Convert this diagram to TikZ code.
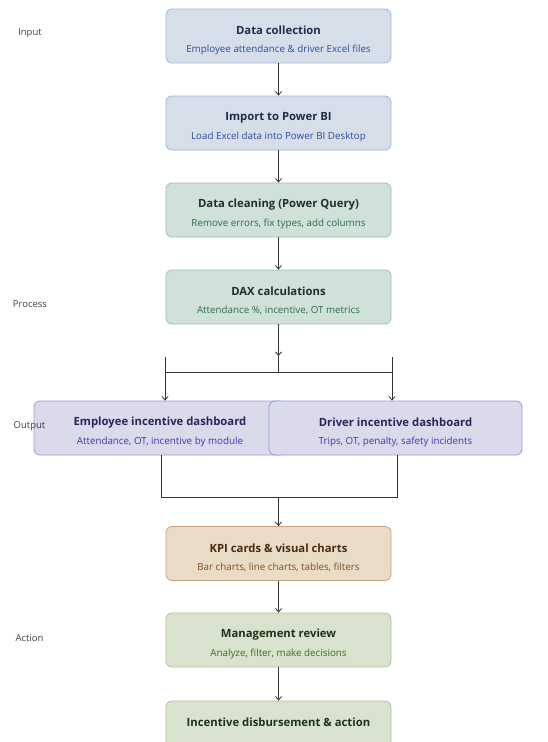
\documentclass[tikz,border=0pt]{standalone}
\usepackage{fontspec}
\setmainfont{Open Sans}
\usetikzlibrary{arrows.meta,positioning}
\definecolor{inpfill}{HTML}{D6DFE9}
\definecolor{inpline}{HTML}{A3B6D6}
\definecolor{inptitle}{HTML}{1F2B4F}
\definecolor{inpsub}{HTML}{2E4C9E}
\definecolor{prcfill}{HTML}{CFE1D9}
\definecolor{prcline}{HTML}{98C2AE}
\definecolor{prctitle}{HTML}{1D3329}
\definecolor{prcsub}{HTML}{2F6B52}
\definecolor{outfill}{HTML}{DBDAEB}
\definecolor{outline}{HTML}{9D99DA}
\definecolor{outtitle}{HTML}{27255C}
\definecolor{outsub}{HTML}{3D37B5}
\definecolor{kpifill}{HTML}{E8DCC6}
\definecolor{kpiline}{HTML}{C9A27F}
\definecolor{kpititle}{HTML}{4A2A12}
\definecolor{kpisub}{HTML}{8A4A22}
\definecolor{actfill}{HTML}{D8E2CC}
\definecolor{actline}{HTML}{ABC59A}
\definecolor{acttitle}{HTML}{1E3316}
\definecolor{actsub}{HTML}{3D6A2A}
\definecolor{wire}{HTML}{333333}

\tikzset{
  stage/.style={draw, line width=0.8pt, rounded corners=6pt, minimum width=225pt,
    minimum height=54pt, inner sep=0pt},
  wide/.style={stage, minimum width=252pt},
  ttl/.style={font=\fontsize{11.3}{13}\selectfont\bfseries, inner sep=0pt},
  sub/.style={font=\fontsize{9.8}{11}\selectfont, inner sep=0pt},
  lane/.style={font=\fontsize{9.5}{11}\selectfont, text=black!75, inner sep=0pt},
  flow/.style={draw=wire, line width=0.8pt},
  arr/.style={flow, -{Straight Barb[length=3.5pt,width=6pt]}},
}

\begin{document}
\begin{tikzpicture}[x=1pt,y=-1pt]
  \useasboundingbox (0,0) rectangle (547,742);

  % input
  \node[stage, fill=inpfill, draw=inpline] (collect) at (278.5,36) {};
  \node[ttl, text=inptitle] at ([yshift=-22pt]collect.north) {Data collection};
  \node[sub, text=inpsub] at ([yshift=-41pt]collect.north) {Employee attendance \& driver Excel files};

  \node[stage, fill=inpfill, draw=inpline] (import) at (278.5,123) {};
  \node[ttl, text=inptitle] at ([yshift=-22pt]import.north) {Import to Power BI};
  \node[sub, text=inpsub] at ([yshift=-41pt]import.north) {Load Excel data into Power BI Desktop};

  % process
  \node[stage, fill=prcfill, draw=prcline] (clean) at (278.5,210) {};
  \node[ttl, text=prctitle] at ([yshift=-22pt]clean.north) {Data cleaning (Power Query)};
  \node[sub, text=prcsub] at ([yshift=-41pt]clean.north) {Remove errors, fix types, add columns};

  \node[stage, fill=prcfill, draw=prcline] (dax) at (278.5,297) {};
  \node[ttl, text=prctitle] at ([yshift=-22pt]dax.north) {DAX calculations};
  \node[sub, text=prcsub] at ([yshift=-41pt]dax.north) {Attendance \%, incentive, OT metrics};

  % output
  \node[wide, fill=outfill, draw=outline] (empdash) at (160,428) {};
  \node[wide, fill=outfill, draw=outline, minimum width=253pt] (drvdash) at (395.5,428) {};
  \node[ttl, text=outtitle] at ([yshift=-22pt]empdash.north) {Employee incentive dashboard};
  \node[sub, text=outsub] at ([yshift=-41pt]empdash.north) {Attendance, OT, incentive by module};
  \node[ttl, text=outtitle] at ([yshift=-22pt]drvdash.north) {Driver incentive dashboard};
  \node[sub, text=outsub] at ([yshift=-41pt]drvdash.north) {Trips, OT, penalty, safety incidents};

  \node[stage, fill=kpifill, draw=kpiline] (kpi) at (278.5,553.5) {};
  \node[ttl, text=kpititle] at ([yshift=-22pt]kpi.north) {KPI cards \& visual charts};
  \node[sub, text=kpisub] at ([yshift=-41pt]kpi.north) {Bar charts, line charts, tables, filters};

  % action
  \node[stage, fill=actfill, draw=actline] (review) at (278.5,640) {};
  \node[ttl, text=acttitle] at ([yshift=-22pt]review.north) {Management review};
  \node[sub, text=actsub] at ([yshift=-41pt]review.north) {Analyze, filter, make decisions};

  \node[stage, fill=actfill, draw=actline] (payout) at (278.5,728) {};
  \node[ttl, text=acttitle] at ([yshift=-22pt]payout.north) {Incentive disbursement \& action};

  % lanes (on top)
  \node[lane] (lin) at (30,33) {Input};
  \node[lane] (lpr) at (30,304) {Process};
  \node[lane] (lou) at (29.5,426) {Output};
  \node[lane] (lac) at (29.5,638) {Action};

  % split and merge points
  \coordinate (split) at (278.5,356);
  \coordinate (fork) at (278.5,372);
  \coordinate (forkl) at (165,372);
  \coordinate (forkr) at (392,372);
  \coordinate (stubl) at (165,357);
  \coordinate (stubr) at (392,357);
  \coordinate (joinl) at (161,497);
  \coordinate (joinr) at (397,497);
  \coordinate (join) at (278.5,497);

  % connectors
  \draw[arr] (collect) -- (import);
  \draw[arr] (import) -- (clean);
  \draw[arr] (clean) -- (dax);
  \draw[arr] (dax) -- (split);
  \draw[flow] (split) -- (fork);
  \draw[flow] (forkl) -- (forkr);
  \draw[arr] (stubl) -- (stubl |- empdash.north);
  \draw[arr] (stubr) -- (stubr |- drvdash.north);
  \draw[flow] (joinl |- empdash.south) -- (joinl) -- (joinr) -- (joinr |- drvdash.south);
  \draw[arr] (join) -- (kpi);
  \draw[arr] (kpi) -- (review);
  \draw[arr] (review) -- (payout);
\end{tikzpicture}
\end{document}
